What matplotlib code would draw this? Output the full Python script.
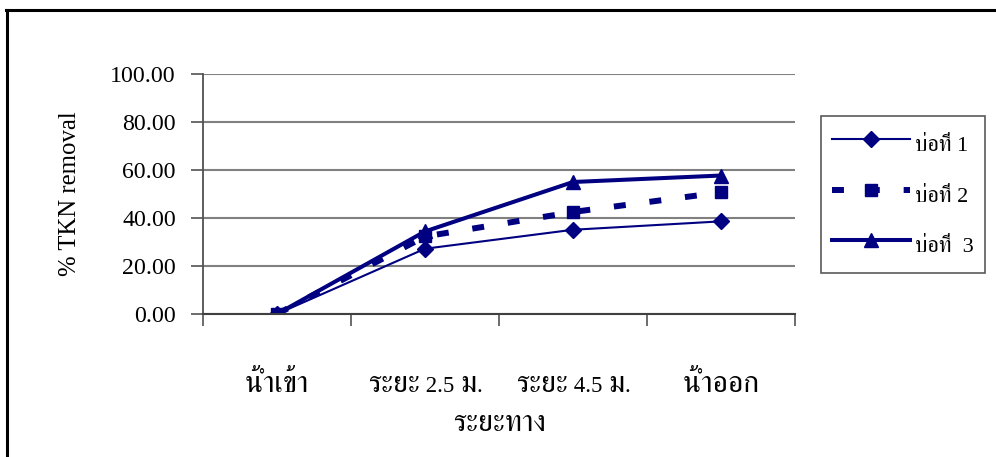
import matplotlib
matplotlib.use("Agg")
import matplotlib.pyplot as plt
from matplotlib import font_manager, ft2font
from matplotlib.offsetbox import TextArea, HPacker, AnnotationBbox

# Categories (sampling points along the pond) and % TKN removal per pond
categories = ["น้ำเข้า", "ระยะ 2.5 ม.", "ระยะ 4.5 ม.", "น้ำออก"]
pond1 = [0.0, 27.2, 35.1, 38.6]
pond2 = [0.0, 32.3, 42.5, 50.7]
pond3 = [0.0, 34.4, 55.0, 57.7]
series_labels = ["บ่อที่ 1", "บ่อที่ 2", "บ่อที่  3"]
yticks = [0, 20, 40, 60, 80, 100]
x_title = "ระยะทาง"
y_title = "% TKN removal"


def thai_family():
    """Pick an installed family that can draw Thai script."""
    preferred = []
    others = []
    for f in font_manager.fontManager.ttflist:
        try:
            cmap = ft2font.FT2Font(f.fname).get_charmap()
        except Exception:
            continue
        if 0x0E19 in cmap and 0x0E49 in cmap:
            if "serif" in f.name.lower() and "sans" not in f.name.lower():
                preferred.append(f.name)
            else:
                others.append(f.name)
    for names in (preferred, others):
        if names:
            return names[0]
    return "DejaVu Sans"


THAI = thai_family()
FAMILY = ["Liberation Serif", THAI, "DejaVu Serif"]
plt.rcParams["font.family"] = FAMILY

NAVY = "#000080"
GRID = "#808080"
THAI_SIZE = 21.5
LATIN_SIZE = 16.5


def split_runs(text):
    """Split a string into runs of Thai and non-Thai characters."""
    runs = []
    for ch in text:
        thai = "\u0e00" <= ch <= "\u0e7f"
        if runs and runs[-1][0] == thai:
            runs[-1][1] += ch
        else:
            runs.append([thai, ch])
    return runs


def mixed_text(ax, xpos, text, dy):
    """Place a label whose Thai runs are drawn larger than its Latin runs."""
    parts = [TextArea(seg, textprops=dict(fontsize=THAI_SIZE if thai else LATIN_SIZE,
                                          family=FAMILY, color="black"))
             for thai, seg in split_runs(text)]
    box = HPacker(children=parts, align="baseline", pad=0, sep=0)
    ab = AnnotationBbox(box, (xpos, 0), xycoords=("data", "axes fraction"),
                        xybox=(0, dy), boxcoords="offset points",
                        box_alignment=(0.5, 0.5), frameon=False,
                        annotation_clip=False)
    ax.add_artist(ab)


fig = plt.figure(figsize=(9.96, 4.57), dpi=100)
W, H = 996, 457

# outer frame: top and left edges
fig.add_artist(plt.Line2D([6.5 / W, 6.5 / W], [0, 1 - 9.5 / H], color="black", lw=2.2,
                          transform=fig.transFigure))
fig.add_artist(plt.Line2D([5.5 / W, 1], [1 - 9.5 / H, 1 - 9.5 / H], color="black", lw=2.2,
                          transform=fig.transFigure))

ax = fig.add_axes([203 / W, 1 - 314 / H, 592 / W, 240 / H])
x = list(range(len(categories)))

ax.plot(x, pond1, color=NAVY, lw=1.5, marker="D", ms=8, label=series_labels[0])
ax.plot(x, pond2, color=NAVY, lw=4.3, marker="s", ms=8.5, dashes=(2.0, 4.0),
        label=series_labels[1])
ax.plot(x, pond3, color=NAVY, lw=2.9, marker="^", ms=10, label=series_labels[2])

ax.set_xlim(-0.5, len(categories) - 0.5)
ax.set_ylim(0, 100)
ax.set_yticks(yticks)
ax.set_yticklabels([f"{v:.2f}" for v in yticks])
ax.yaxis.grid(True, color=GRID, lw=1.5)
ax.set_axisbelow(True)

# category ticks sit on the boundaries between categories
ax.set_xticks([i - 0.5 for i in range(len(categories) + 1)])
ax.set_xticklabels([])
ax.tick_params(axis="x", which="major", length=8.6, width=1.3, color="#606060")
ax.tick_params(axis="y", length=8.6, width=1.3, color="#606060", labelsize=17.2, pad=11)

for xi, cat in zip(x, categories):
    mixed_text(ax, xi, cat, dy=-51)
mixed_text(ax, (len(categories) - 1) / 2, x_title, dy=-79)

for s in ("top", "right"):
    ax.spines[s].set_visible(False)
ax.spines["left"].set_color("#505050")
ax.spines["left"].set_linewidth(1.3)
ax.spines["bottom"].set_color("#404040")
ax.spines["bottom"].set_linewidth(1.5)

ax.set_ylabel(y_title, fontsize=17.8, labelpad=21)

leg = ax.legend(loc="upper left", bbox_to_anchor=(821 / W, 1 - 116 / H),
                bbox_transform=fig.transFigure, frameon=True, fancybox=False,
                edgecolor="#303030", fontsize=16, handlelength=3.5,
                handleheight=2.0, handletextpad=0.25, labelspacing=0.72,
                borderpad=0.5, borderaxespad=0)
leg.get_frame().set_linewidth(1.2)

fig.savefig("out.png", dpi=100)
